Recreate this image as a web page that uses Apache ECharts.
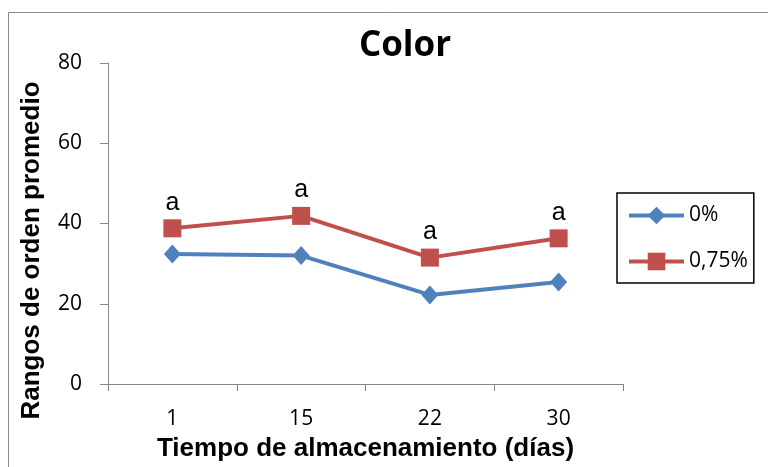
<!DOCTYPE html>
<html>
<head>
<meta charset="utf-8">
<style>
  html, body { margin: 0; padding: 0; background: #fff; }
  #chart { width: 768px; height: 467px; }
</style>
<script src="https://cdn.jsdelivr.net/npm/echarts@6/dist/echarts.min.js"></script>
</head>
<body>
<div id="chart"></div>
<script>
// Storage time (days) and mean rank values per treatment
const days = ['1', '15', '22', '30'];
const seriesNames = ['0%', '0,75%'];
const values0 = [32.4, 32.0, 22.2, 25.4];
const values075 = [38.8, 41.9, 31.5, 36.3];
const letters075 = ['a', 'a', 'a', 'a'];
const yTicks = [0, 20, 40, 60, 80];

const axisGray = '#868686';
const blue = '#4F81BD';
const red = '#C0504D';
const tickFont = '"Open Sans", "Liberation Sans", sans-serif';
const boldFont = 'Arial, "Liberation Sans", sans-serif';

const chart = echarts.init(document.getElementById('chart'), null, { renderer: 'canvas' });

chart.setOption({
  animation: false,
  backgroundColor: '#ffffff',
  title: {
    text: 'Color',
    left: 400,
    top: 24,
    textAlign: 'center',
    textStyle: { fontFamily: tickFont, fontWeight: 'bold', fontSize: 35, color: '#000' }
  },
  graphic: [{
    type: 'rect',
    left: 6, top: 10,
    shape: { width: 800, height: 500 },
    style: { fill: 'none', stroke: '#8c8c8c', lineWidth: 1 },
    silent: true
  }],
  grid: { left: 108, right: 145, top: 63, bottom: 76 },
  legend: {
    orient: 'vertical',
    left: 617,
    top: 193,
    padding: [12, 6, 11, 10],
    itemGap: 25,
    itemWidth: 55,
    itemHeight: 22,
    borderColor: '#000',
    borderWidth: 1.5,
    lineStyle: { width: 4 },
    data: seriesNames,
    textStyle: { fontFamily: tickFont, fontSize: 21, color: '#000' }
  },
  xAxis: {
    type: 'category',
    data: days,
    boundaryGap: true,
    name: 'Tiempo de almacenamiento (días)',
    nameLocation: 'middle',
    nameGap: 52,
    nameTextStyle: { fontFamily: boldFont, fontWeight: 'bold', fontSize: 26, color: '#000' },
    axisLine: { lineStyle: { color: axisGray, width: 1 } },
    axisTick: { show: true, length: 7, alignWithLabel: false, lineStyle: { color: axisGray } },
    axisLabel: { margin: 25, fontFamily: tickFont, fontSize: 21, color: '#000' }
  },
  yAxis: {
    type: 'value',
    min: yTicks[0],
    max: yTicks[yTicks.length - 1],
    interval: 20,
    name: 'Rangos de orden promedio',
    nameLocation: 'middle',
    nameGap: 63,
    nameTextStyle: {
      fontFamily: boldFont, fontWeight: 'bold', fontSize: 26, color: '#000',
      padding: [0, 54, 0, 0]
    },
    splitLine: { show: false },
    axisLine: { show: true, lineStyle: { color: axisGray, width: 1 } },
    axisTick: { show: true, length: 8, lineStyle: { color: axisGray } },
    axisLabel: { margin: 26, fontFamily: tickFont, fontSize: 21, color: '#000' }
  },
  series: [
    {
      name: seriesNames[0],
      type: 'line',
      data: values0,
      symbol: 'diamond',
      symbolSize: [17, 19],
      lineStyle: { color: blue, width: 4 },
      itemStyle: { color: blue },
      z: 2
    },
    {
      name: seriesNames[1],
      type: 'line',
      data: values075,
      symbol: 'rect',
      symbolSize: 18,
      lineStyle: { color: red, width: 4 },
      itemStyle: { color: red },
      label: {
        show: true,
        position: 'top',
        distance: 4,
        formatter: p => letters075[p.dataIndex],
        fontFamily: boldFont,
        fontSize: 25,
        color: '#000'
      },
      z: 3
    }
  ]
});
</script>
</body>
</html>
